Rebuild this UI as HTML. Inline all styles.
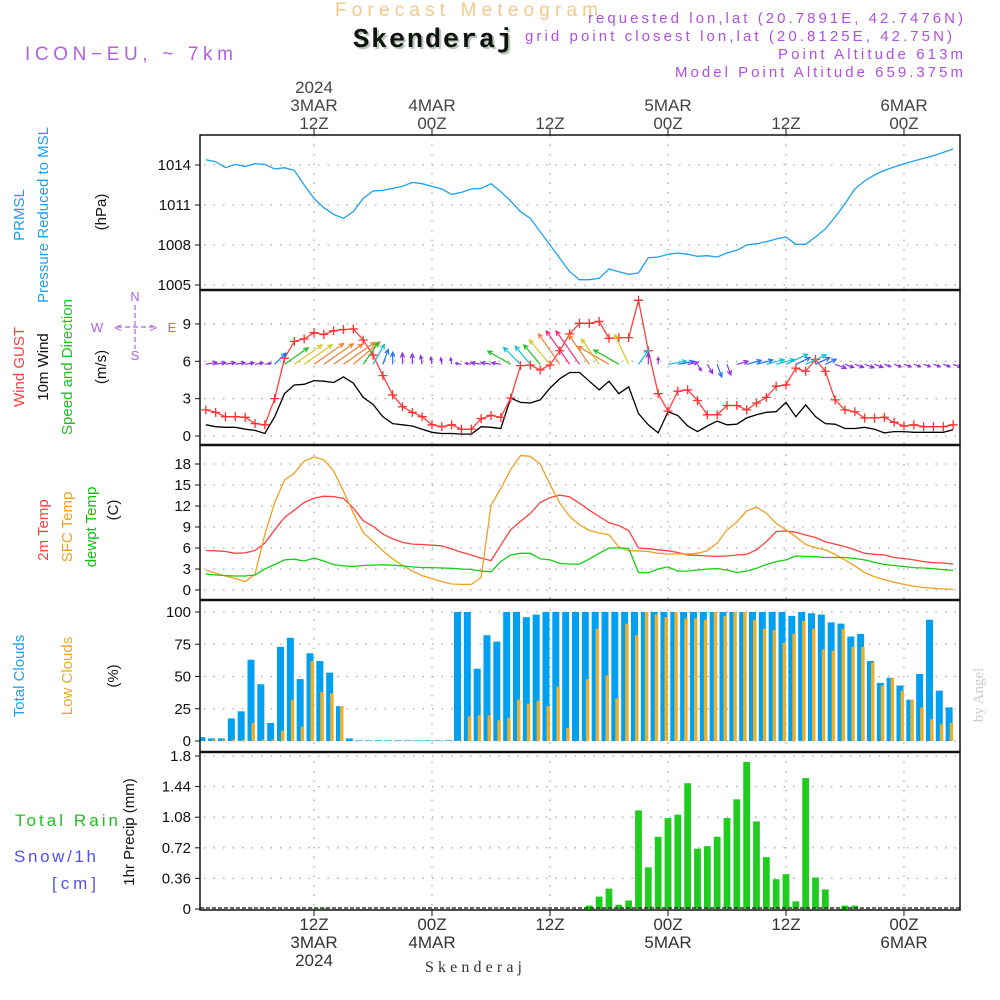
<!DOCTYPE html>
<html><head><meta charset="utf-8"><style>
html,body{margin:0;padding:0;background:#fff;}
svg{display:block;font-family:"Liberation Sans",sans-serif;}
</style></head><body>
<svg id="chart" width="1000" height="1000" viewBox="0 0 1000 1000" xmlns="http://www.w3.org/2000/svg">
<rect width="1000" height="1000" fill="#fff"/>
<g id="header">
<text x="335" y="16" font-size="19" fill="#f3c98b" textLength="263" lengthAdjust="spacing">Forecast Meteogram</text>
<text x="355" y="49" font-size="27" font-weight="bold" font-family="Liberation Mono, monospace" fill="#b8c8b8" textLength="160" lengthAdjust="spacing">Skenderaj</text>
<text x="353" y="47" font-size="27" font-weight="bold" font-family="Liberation Mono, monospace" fill="#111" textLength="160" lengthAdjust="spacing">Skenderaj</text>
<text x="25" y="60" font-size="19" fill="#b060e0" textLength="208" lengthAdjust="spacing">ICON−EU, ~ 7km</text>
<text x="963" y="23" font-size="15" fill="#b050e0" text-anchor="end" textLength="375" lengthAdjust="spacing">requested lon,lat (20.7891E, 42.7476N)</text>
<text x="952" y="41" font-size="15" fill="#b050e0" text-anchor="end" textLength="427" lengthAdjust="spacing">grid point closest lon,lat (20.8125E, 42.75N)</text>
<text x="963" y="59" font-size="15" fill="#b050e0" text-anchor="end" textLength="185" lengthAdjust="spacing">Point Altitude 613m</text>
<text x="963" y="77" font-size="15" fill="#b050e0" text-anchor="end" textLength="288" lengthAdjust="spacing">Model Point Altitude 659.375m</text>
</g>
<g id="labels" font-size="15">
<text transform="translate(24,215) rotate(-90)" text-anchor="middle" fill="#1ea0f0">PRMSL</text>
<text transform="translate(48,215) rotate(-90)" text-anchor="middle" fill="#1ea0f0">Pressure Reduced to MSL</text>
<text transform="translate(106,212) rotate(-90)" text-anchor="middle" fill="#111">(hPa)</text>
<text transform="translate(24,367) rotate(-90)" text-anchor="middle" fill="#ff4040">Wind GUST</text>
<text transform="translate(48,367) rotate(-90)" text-anchor="middle" fill="#111">10m Wind</text>
<text transform="translate(72,367) rotate(-90)" text-anchor="middle" fill="#20c020">Speed and Direction</text>
<text transform="translate(106,367) rotate(-90)" text-anchor="middle" fill="#111">(m/s)</text>
<text transform="translate(48,530) rotate(-90)" text-anchor="middle" fill="#ff4040">2m Temp</text>
<text transform="translate(72,527) rotate(-90)" text-anchor="middle" fill="#f0a020">SFC Temp</text>
<text transform="translate(96,527) rotate(-90)" text-anchor="middle" fill="#10c010">dewpt Temp</text>
<text transform="translate(118,510) rotate(-90)" text-anchor="middle" fill="#111">(C)</text>
<text transform="translate(24,676) rotate(-90)" text-anchor="middle" fill="#1ea0f0">Total Clouds</text>
<text transform="translate(72,676) rotate(-90)" text-anchor="middle" fill="#e8a830">Low Clouds</text>
<text transform="translate(118,676) rotate(-90)" text-anchor="middle" fill="#111">(%)</text>
<text transform="translate(134,832) rotate(-90)" text-anchor="middle" fill="#111">1hr Precip (mm)</text>
<text x="15" y="826" font-size="17" fill="#20c020" textLength="103" lengthAdjust="spacing">Total  Rain</text>
<text x="14" y="862" font-size="17" fill="#5050f0" textLength="82" lengthAdjust="spacing">Snow/1h</text>
<text x="52" y="889" font-size="17" fill="#5050f0" textLength="44" lengthAdjust="spacing">[cm]</text>
<text transform="translate(983,695) rotate(-90)" text-anchor="middle" font-family="Liberation Serif, serif" font-size="15" fill="#ccc">by Angel</text>
<g fill="#b060e0" stroke="#b060e0" font-size="13">
<line x1="117" y1="327" x2="153" y2="327" stroke-width="1.2" stroke-dasharray="5,3"/>
<line x1="135" y1="305" x2="135" y2="349" stroke-width="1.2" stroke-dasharray="5,3"/>
<text stroke="none" x="97" y="332" text-anchor="middle">W</text>
<text stroke="none" x="172" y="332" text-anchor="middle">E</text>
<text stroke="none" x="135" y="301" text-anchor="middle">N</text>
<text stroke="none" x="135" y="360" text-anchor="middle">S</text>
<text stroke="none" x="118" y="332" text-anchor="middle">&lt;</text>
<text stroke="none" x="153" y="332" text-anchor="middle">&gt;</text>
</g>
<text x="425" y="972" font-family="Liberation Serif, serif" font-size="16" fill="#333" textLength="97" lengthAdjust="spacing">Skenderaj</text>
</g>
<g id="plot"></g>
</svg>
<script>
// ---- data (hourly, first value at 01Z 3MAR) ----
const hours = [];
for (let i = 1; i <= 77; i++) hours.push(i);
const pressure = [1014.4,1014.25,1013.8,1014.05,1013.9,1014.1,1014.05,1013.7,1013.8,1013.6,1012.5,1011.5,1010.8,1010.3,1010.0,1010.5,1011.5,1012.05,1012.1,1012.25,1012.4,1012.7,1012.6,1012.4,1012.2,1011.8,1011.95,1012.2,1012.25,1012.6,1012.0,1011.3,1010.5,1010.0,1009.0,1008.0,1007.0,1006.0,1005.4,1005.4,1005.5,1006.2,1006.0,1005.8,1005.9,1007.05,1007.1,1007.3,1007.4,1007.3,1007.15,1007.2,1007.1,1007.4,1007.6,1008.0,1008.1,1008.25,1008.45,1008.6,1008.05,1008.05,1008.6,1009.2,1010.1,1011.1,1012.2,1012.8,1013.25,1013.6,1013.85,1014.1,1014.3,1014.5,1014.7,1014.95,1015.2];
const gust = [2.1,1.9,1.55,1.55,1.5,1.0,0.9,3.0,6.25,7.6,7.8,8.3,8.15,8.45,8.55,8.6,7.7,6.5,4.85,3.3,2.35,1.9,1.55,0.9,0.75,0.9,0.55,0.55,1.4,1.65,1.5,3.05,5.65,5.7,5.3,5.7,6.85,8.2,9.05,9.05,9.2,7.85,7.9,7.9,10.9,6.85,3.4,2.0,3.6,3.7,2.85,1.7,1.7,2.45,2.45,2.1,2.65,3.1,4.0,4.1,5.45,5.2,6.15,5.2,2.9,2.1,1.95,1.45,1.45,1.5,1.1,0.8,0.9,0.75,0.75,0.75,0.9];
const wind = [0.9,0.75,0.7,0.7,0.55,0.45,0.2,1.55,3.4,4.1,4.15,4.45,4.4,4.3,4.75,4.25,3.1,2.55,1.55,1.0,0.9,0.8,0.55,0.3,0.2,0.2,0.15,0.15,0.75,0.7,0.6,3.05,2.7,2.65,2.9,3.85,4.6,5.1,5.1,4.4,3.7,4.4,3.4,3.95,1.8,0.9,0.25,1.95,1.65,0.8,0.35,0.8,1.2,0.9,0.95,1.45,1.7,1.9,1.95,2.7,1.55,2.5,1.55,1.0,0.95,0.6,0.6,0.7,0.55,0.25,0.35,0.35,0.3,0.3,0.3,0.3,0.5];
const windDir = [10,10,10,10,10,10,10,45,35,35,35,35,35,35,35,40,55,60,70,90,90,90,100,100,100,100,170,170,170,170,170,150,135,130,130,130,125,125,125,125,125,150,150,115,55,90,90,10,10,10,-60,-60,-70,-70,15,15,15,15,15,25,25,25,25,25,-20,-20,-20,-20,-20,-20,-20,-20,-20,-20,-20,-20,-20];
const temp2m = [5.65,5.6,5.5,5.25,5.3,5.65,6.7,8.6,10.35,11.4,12.5,13.1,13.4,13.35,13.1,11.7,9.9,9.1,8.0,7.3,6.8,6.55,6.5,6.4,6.3,5.85,5.4,5.0,4.55,4.2,6.4,8.6,9.8,10.95,12.5,13.2,13.55,13.3,12.4,11.4,10.5,9.6,9.2,8.5,6.0,5.9,5.75,5.6,5.35,5.0,4.95,4.85,4.8,4.85,5.0,5.1,5.75,6.9,8.35,8.45,8.25,7.85,7.5,6.9,6.55,6.2,5.75,5.25,5.1,5.0,4.65,4.5,4.3,4.05,3.9,3.85,3.7];
const tempSfc = [2.85,2.4,2.0,1.65,1.2,2.25,7.9,12.5,15.7,16.7,18.4,19.0,18.6,17.0,14.1,11.0,8.2,6.95,5.6,4.45,3.5,2.7,2.05,1.65,1.2,0.85,0.8,0.8,1.8,12.1,14.5,17.2,19.2,19.1,18.0,15.1,12.4,10.5,9.3,8.5,8.15,7.9,6.15,5.6,5.6,5.5,5.25,5.15,5.15,5.15,5.25,5.6,6.7,8.6,9.7,11.3,11.8,11.0,9.5,8.6,7.6,6.5,6.05,5.75,5.1,4.3,3.45,2.5,1.9,1.5,1.1,0.8,0.55,0.35,0.25,0.15,0.1];
const dewpt = [2.3,2.15,2.05,2.0,2.0,2.15,3.0,3.65,4.3,4.4,4.15,4.55,4.15,3.65,3.45,3.35,3.5,3.55,3.6,3.55,3.45,3.3,3.2,3.2,3.15,3.1,3.0,2.95,2.7,2.6,4.05,5.0,5.25,5.25,4.45,4.3,3.8,3.7,3.7,4.45,5.25,6.0,6.0,5.95,2.5,2.45,3.0,3.3,2.7,2.7,2.85,3.0,3.05,2.85,2.5,2.7,3.1,3.65,4.05,4.3,4.85,4.8,4.75,4.65,4.65,4.65,4.5,4.3,3.95,3.65,3.5,3.35,3.2,3.15,3.05,2.9,2.8];
const totalClouds = [3,2,2,17.5,23,63,44,14,73,80,48,68,62,53,27,2,0.5,0.5,0.5,0.5,0.5,0.5,0.5,0.5,0.5,0.5,100,100,56,82,77,100,100,96,98,100,100,100,100,100,100,100,100,100,100,100,100,100,100,100,100,100,100,100,100,100,100,100,100,100,97,100,99,98,92,91,81,83,62,45,49,43,32,52,94,39,26];
const lowClouds = [0,1,1,1,1,14,1,1,8,32,11,62,38,37,27,0,0,0,0,0,0,0,0,0,0,0,0.5,19,20,20,16,18,32,29,31,27,42,10,0,48,87,51,33,91,82,100,98,96,100,95,95,94,100,97,100,100,94,87,86,76,83,93,87,71,70,87,73,73,61,43,49,39,32,26,17,13,14];
const precipHours = [12,13,40,41,42,43,44,45,46,47,48,49,50,51,52,53,54,55,56,57,58,59,60,61,62,63,64,65,66,67];
const precip = [0.005,0.01,0.04,0.146,0.24,0.05,0.1,1.16,0.49,0.85,1.07,1.11,1.48,0.71,0.74,0.85,1.07,1.29,1.73,1.03,0.61,0.35,0.41,0.09,1.54,0.37,0.23,0,0.04,0.04];
const pTicks = [1005,1008,1011,1014];
const wTicks = [0,3,6,9];
const tTicks = [0,3,6,9,12,15,18];
const cTicks = [0,25,50,75,100];
const rTicks = ["0","0.36","0.72","1.08","1.44","1.8"];
const timeTicks = [12,24,36,48,60,72];
const topLabels = [["2024","3MAR","12Z"],["","4MAR","00Z"],["","","12Z"],["","5MAR","00Z"],["","","12Z"],["","6MAR","00Z"]];
const bottomLabels = [["12Z","3MAR","2024"],["00Z","4MAR",""],["12Z","",""],["00Z","5MAR",""],["12Z","",""],["00Z","6MAR",""]];

// ---- axes ----
const L = 200, R = 960;
const X = h => 314 + (h - 12) * 9.833;
const yP = v => 285 - (v - 1005) * 13.33;
const yW = v => 436 - v * 12.45;
const yT = v => 590 - v * 7.0;
const yC = v => 741 - v * 1.29;
const yR = v => 909 - v * 85;
const panels = [[135,290,'pressure-panel'],[290,445,'wind-panel'],[445,600,'temperature-panel'],[600,752,'cloud-panel'],[752,910,'precip-panel']];

const NS = 'http://www.w3.org/2000/svg';
const plot = document.getElementById('plot');
function mk(tag, attrs, parent) {
  const e = document.createElementNS(NS, tag);
  for (const k in attrs) e.setAttribute(k, attrs[k]);
  (parent || plot).appendChild(e);
  return e;
}
const clipD = mk('defs', {});
const cp = mk('clipPath', {id: 'clipAll'}, clipD);
mk('rect', {x: L, y: 135, width: R - L, height: 775}, cp);

const grid = mk('g', {stroke: '#aaa', 'stroke-width': 1.3, 'stroke-dasharray': '1.5,8'});


panels.forEach(p => {
  timeTicks.forEach(h => mk('line', {x1: X(h), y1: p[0], x2: X(h), y2: p[1]}, grid));
});
function hgrid(ticks, yf) {
  ticks.forEach(t => {
    const v = parseFloat(t);
    mk('line', {x1: L + 4, y1: yf(v), x2: R, y2: yf(v)}, grid);
    const tx = mk('text', {x: 191, y: yf(v) + 5, 'font-size': 15, 'text-anchor': 'end', fill: '#111'});
    
    
    tx.textContent = t;
    mk('line', {x1: L - 5, y1: yf(v), x2: L, y2: yf(v), stroke: '#111'});
  });
}
hgrid(pTicks, yP); hgrid(wTicks, yW); hgrid(tTicks, yT); hgrid(cTicks, yC); hgrid(rTicks, yR);

timeTicks.forEach((h, k) => {
  mk('line', {x1: X(h), y1: 129, x2: X(h), y2: 135, stroke: '#111'});
  mk('line', {x1: X(h), y1: 910, x2: X(h), y2: 916, stroke: '#111'});
  topLabels[k].forEach((s, j) => {
    if (!s) return;
    const t = mk('text', {x: X(h), y: 93 + j * 18, 'font-size': 17, 'text-anchor': 'middle', fill: '#444'});
    
    
    t.textContent = s;
  });
  bottomLabels[k].forEach((s, j) => {
    if (!s) return;
    const t = mk('text', {x: X(h), y: 930 + j * 18, 'font-size': 17, 'text-anchor': 'middle', fill: '#333'});
    
    
    t.textContent = s;
  });
});

const g = mk('g', {'clip-path': 'url(#clipAll)'});
function line(vals, yf, color, name, w) {
  const pts = vals.map((v, i) => X(hours[i]).toFixed(1) + ',' + yf(v).toFixed(1)).join(' ');
  const e = mk('polyline', {points: pts, fill: 'none', stroke: color, 'stroke-width': w || 1.3}, g);
  
  
}
line(pressure, yP, '#1ea0f0', 'pressure-line');

totalClouds.forEach((v, i) => {
  const x = X(hours[i]) - 4;
  const b = mk('rect', {x: x - 3.5, y: yC(v), width: 7, height: yC(0) - yC(v), fill: '#00a0f0'}, g);
  
  
});
lowClouds.forEach((v, i) => {
  const x = X(hours[i]) - 4;
  const b = mk('rect', {x: x + 0.5, y: yC(v), width: 3.5, height: yC(0) - yC(v), fill: '#e8b030'}, g);
  
  
});
precip.forEach((v, i) => {
  const x = X(precipHours[i]);
  const b = mk('rect', {x: x - 3.4, y: yR(v), width: 6.8, height: yR(0) - yR(v), fill: '#20cc20'}, g);
  
  
});
mk('line', {x1: L, y1: 908, x2: R, y2: 908, stroke: '#333', 'stroke-dasharray': '4,2', 'stroke-width': 1.5}, g);

line(temp2m, yT, '#ff4040', 'temp-2m-line');
line(tempSfc, yT, '#f0a020', 'sfc-temp-line');
line(dewpt, yT, '#10d010', 'dewpoint-line');

line(wind, yW, '#000', 'wind-speed-line');
line(gust, yW, '#ff4040', 'wind-gust-line');
gust.forEach((v, i) => {
  const x = X(hours[i]), y = yW(v);
  const p = mk('path', {d: `M${x-4.5},${y}H${x+4.5}M${x},${y-4.5}V${y+4.5}`, stroke: '#ff3030', 'stroke-width': 1.3}, g);
  
  
});
function windColor(s) {
  if (s < 1) return '#9030e0';
  if (s < 1.8) return '#2070ff';
  if (s < 2.8) return '#10c0d0';
  if (s < 3.5) return '#20c020';
  if (s < 4.2) return '#d8c820';
  if (s < 4.8) return '#f08030';
  return '#ff2080';
}
wind.forEach((s, i) => {
  const x0 = X(hours[i]), y0 = yW(6) + 3;
  const a = windDir[i] * Math.PI / 180;
  const len = 5 + 7 * s;
  const x1 = x0 + len * Math.cos(a), y1 = y0 - len * Math.sin(a);
  const hl = Math.min(5, len * 0.45);
  const a1 = a + Math.PI - 0.45, a2 = a + Math.PI + 0.45;
  const c = windColor(s);
  const p = mk('path', {d: `M${x0},${y0}L${x1},${y1}M${x1 + hl*Math.cos(a1)},${y1 - hl*Math.sin(a1)}L${x1},${y1}L${x1 + hl*Math.cos(a2)},${y1 - hl*Math.sin(a2)}`, stroke: c, 'stroke-width': 1.2, fill: 'none'}, g);
  
  
});

panels.forEach(p => {
  const r = mk('rect', {x: L, y: p[0], width: R - L, height: p[1] - p[0], fill: 'none', stroke: '#111', 'stroke-width': 1.5});
  
  
});
[290,445,600,752].forEach(y => mk('line', {x1: L, y1: y, x2: R, y2: y, stroke: '#111', 'stroke-width': 2.5}));
</script>
</body></html>
